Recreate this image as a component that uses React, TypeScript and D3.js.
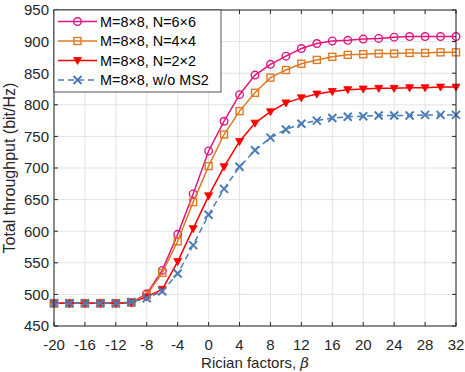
import React from "react";
import * as d3 from "d3";

// Rician factor beta, one point every 2
const betas = [
  -20, -18, -16, -14, -12, -10, -8, -6, -4, -2, 0, 2, 4, 6, 8, 10, 12, 14, 16, 18, 20, 22, 24, 26, 28, 30, 32,
];

const n6x6 = [
  486, 486, 486, 486, 486, 487, 501, 538, 595, 659, 727, 774, 816, 847, 864, 877, 889, 897, 901, 902, 904, 905, 907,
  908, 908, 908, 908,
];
const n4x4 = [
  486, 486, 486, 486, 486, 487, 499, 534, 584, 646, 703, 753, 790, 819, 843, 855, 865, 871, 876, 879, 880, 881, 881,
  882, 882, 883, 883,
];
const n2x2 = [
  486, 486, 486, 486, 486, 487, 496, 508, 552, 604, 656, 702, 742, 771, 789, 803, 811, 817, 821, 824, 825, 826, 826,
  827, 827, 828, 828,
];
const noMs2 = [
  486, 486, 486, 486, 486, 488, 494, 505, 533, 578, 626, 667, 702, 728, 748, 761, 770, 775, 779, 781, 782, 783, 783,
  783, 784, 784, 784,
];

const xTicks = [-20, -16, -12, -8, -4, 0, 4, 8, 12, 16, 20, 24, 28, 32];
const yTicks = [450, 500, 550, 600, 650, 700, 750, 800, 850, 900, 950];

const seriesLabels = ["M=8\u00d78, N=6\u00d76", "M=8\u00d78, N=4\u00d74", "M=8\u00d78, N=2\u00d72", "M=8\u00d78, w/o MS2"];

const W = 465;
const H = 372;
const font = "'Liberation Sans', Arial, sans-serif";

type Marker = "circle" | "square" | "triangle" | "x";

const series: { values: number[]; color: string; marker: Marker; dash?: string }[] = [
  { values: n6x6, color: "#e0157f", marker: "circle" },
  { values: n4x4, color: "#de7a23", marker: "square" },
  { values: n2x2, color: "#ff0000", marker: "triangle" },
  { values: noMs2, color: "#4a7db5", marker: "x", dash: "6,4" },
];

function MarkerShape({ kind, x, y, color }: { kind: Marker; x: number; y: number; color: string }) {
  if (kind === "circle") return <circle cx={x} cy={y} r={3.8} fill="none" stroke={color} strokeWidth={1.4} />;
  if (kind === "square")
    return <rect x={x - 3.5} y={y - 3.5} width={7} height={7} fill="none" stroke={color} strokeWidth={1.4} />;
  if (kind === "triangle")
    return <path d={`M${x - 4},${y - 3} L${x + 4},${y - 3} L${x},${y + 4} Z`} fill={color} stroke={color} strokeWidth={0.8} />;
  return (
    <path
      d={`M${x - 4},${y - 4} L${x + 4},${y + 4} M${x - 4},${y + 4} L${x + 4},${y - 4}`}
      stroke={color}
      strokeWidth={2}
      fill="none"
    />
  );
}

export default function App() {
  const x = d3.scaleLinear().domain([-20, 32]).range([54, 456]);
  const y = d3.scaleLinear().domain([450, 950]).range([326, 10]);
  const [x0, x1] = x.range();
  const [y0, y1] = y.range();

  const line = d3
    .line<number>()
    .x((_, i) => x(betas[i]))
    .y((d) => y(d));

  const legendRows = [21.5, 41, 60.5, 80];

  return (
    <svg width={W} height={H} style={{ position: "absolute", left: 0, top: 0, background: "#fff" }} fontFamily={font}>
      <rect x={0} y={0} width={W} height={H} fill="#fff" />

      {/* grid */}
      {xTicks.map((t) => (
        <line key={"gx" + t} x1={x(t)} x2={x(t)} y1={y0} y2={y1} stroke="#e3e3e3" strokeWidth={1} />
      ))}
      {yTicks.map((t) => (
        <line key={"gy" + t} x1={x0} x2={x1} y1={y(t)} y2={y(t)} stroke="#e3e3e3" strokeWidth={1} />
      ))}

      {/* curves */}
      {series.map((s, si) => (
        <g key={si}>
          <path d={line(s.values) || ""} fill="none" stroke={s.color} strokeWidth={1.5} strokeDasharray={s.dash} />
          {s.values.map((v, i) => (
            <MarkerShape key={i} kind={s.marker} x={x(betas[i])} y={y(v)} color={s.color} />
          ))}
        </g>
      ))}

      {/* box and inward ticks */}
      <rect x={x0} y={y1} width={x1 - x0} height={y0 - y1} fill="none" stroke="#262626" strokeWidth={1} />
      {xTicks.map((t) => (
        <g key={"tx" + t}>
          <line x1={x(t)} x2={x(t)} y1={y0} y2={y0 - 4} stroke="#262626" />
          <line x1={x(t)} x2={x(t)} y1={y1} y2={y1 + 4} stroke="#262626" />
          <text x={x(t)} y={349.5} textAnchor="middle" fontSize={15} fill="#262626">
            {t}
          </text>
        </g>
      ))}
      {yTicks.map((t) => (
        <g key={"ty" + t}>
          <line x1={x0} x2={x0 + 4} y1={y(t)} y2={y(t)} stroke="#262626" />
          <line x1={x1} x2={x1 - 4} y1={y(t)} y2={y(t)} stroke="#262626" />
          <text x={49} y={y(t)} dy="0.36em" textAnchor="end" fontSize={15} fill="#262626">
            {t}
          </text>
        </g>
      ))}

      {/* axis titles */}
      <text x={(x0 + x1) / 2} y={367.5} textAnchor="middle" fontSize={15} fill="#262626">
        Rician factors, <tspan fontStyle="italic" fontFamily="'DejaVu Serif', serif">β</tspan>
      </text>
      <text transform={`translate(15,${(y0 + y1) / 2}) rotate(-90)`} textAnchor="middle" fontSize={16} fill="#262626">
        Total throughput (bit/Hz)
      </text>

      {/* legend */}
      <rect x={54} y={10} width={167} height={82} fill="#fff" stroke="#262626" strokeWidth={0.8} />
      {series.map((s, i) => (
        <g key={"lg" + i}>
          <line x1={58} x2={97} y1={legendRows[i]} y2={legendRows[i]} stroke={s.color} strokeWidth={1.5} strokeDasharray={s.dash} />
          <MarkerShape kind={s.marker} x={77.5} y={legendRows[i]} color={s.color} />
          <text x={100} y={legendRows[i]} dy="0.36em" fontSize={14.4} fill="#000">
            {seriesLabels[i]}
          </text>
        </g>
      ))}
    </svg>
  );
}
